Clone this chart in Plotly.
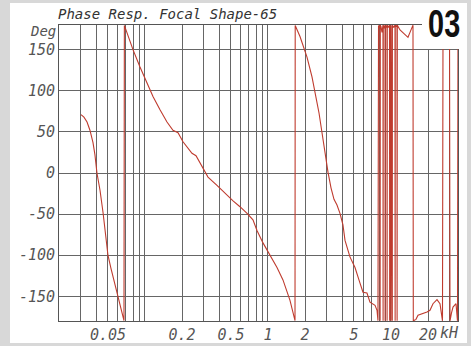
import math
import plotly.graph_objects as go

# Frequency (kHz) and phase (deg) (wrapped at +/-180)
freq_khz = [
    0.0302, 0.0319, 0.0338, 0.0357, 0.0378, 0.0392, 0.0407, 0.0431, 0.0456, 0.0482,
    0.0500, 0.0529, 0.0560, 0.0604, 0.0638, 0.0675,
    0.0680, 0.0728, 0.0799, 0.0911, 0.1039, 0.1162, 0.1325, 0.151, 0.169, 0.1856,
    0.2038, 0.2238, 0.2411, 0.2600, 0.2802, 0.3254, 0.385, 0.464, 0.520, 0.592,
    0.676, 0.755, 0.814, 0.911, 1.039, 1.184, 1.324, 1.51, 1.659,
    1.665, 1.821, 2.076, 2.28, 2.457, 2.60, 2.75, 2.908, 3.076, 3.254, 3.442, 3.64,
    3.85, 4.07, 4.23, 4.64, 5.10, 5.60, 5.92, 6.38, 6.75, 7.42, 7.70, 7.84,
    7.92, 8.07, 8.14, 8.16, 8.19, 8.30, 8.45, 8.58, 8.61, 8.63, 8.66,
    8.80, 8.94, 8.96, 8.99, 9.12, 9.28, 9.30, 9.33, 9.50,
    9.73, 9.76, 9.82, 9.88, 9.94, 10.00, 10.06, 10.12, 10.18, 10.25, 10.27,
    10.50, 10.78, 10.81, 10.84, 11.00, 11.19, 11.22, 11.26,
    11.84, 12.52, 13.25, 13.75, 14.28, 14.83, 15.10, 15.19,
    15.97, 16.59, 18.21, 19.63, 20.76, 21.96, 23.67, 25.03,
    26.23, 26.49, 27.49, 28.55, 29.92, 30.20, 31.06, 31.94, 33.78, 34.74, 35.07,
]
phase_deg = [
    71, 68, 62, 52, 37, 22, 0, -21, -48, -79,
    -100, -116, -130, -151, -165, -179.5,
    179.5, 166, 150, 129, 110, 93, 77, 62, 52, 49,
    38, 30, 24, 21, 12, -5, -15, -27, -34, -41,
    -49, -57, -70, -85, -100, -115, -130, -155, -179.5,
    179.5, 166, 141, 117, 93, 73, 49, 24, 1, -18, -32, -39,
    -49, -63, -82, -102, -115, -134, -145, -146, -157, -161, -167, -179.5,
    179.5, 177, 179.8, -179.8, 179.8, 178, 171, 177, 179.8, -179.8, 179.8,
    176, 179.8, -179.8, 179.8, 177, 179.8, -179.8, 179.8, 177,
    179.8, -179.8, 179.8, -179.8, 179.8, -179.8, 179.8, -179.8, 179.8, -179.8, 179.8,
    177, 179.8, -179.8, 179.8, 178, 179.8, -179.8, 179.8,
    174, 171, 168, 165, 171, 178, 179.8, -179.8,
    -178, -173, -171, -169, -167, -159, -154, -159,
    -179.8, 179.8, 172, 170, 179.8, -179.8, -170, -163, -159, -179.8, 179.8,
]

# Axis ticks / labels
x_grid_vals = [0.03, 0.04, 0.05, 0.06, 0.07, 0.08, 0.09,
               0.1, 0.2, 0.3, 0.4, 0.5, 0.6, 0.7, 0.8, 0.9,
               1, 2, 3, 4, 5, 6, 7, 8, 9, 10, 20, 30]
x_label_vals = [0.05, 0.2, 0.5, 1, 2, 5, 10, 20]
x_label_text = ["0.05", "0.2", "0.5", "1", "2", "5", "10", "20"]
y_tick_vals = [-150, -100, -50, 0, 50, 100, 150]
y_tick_text = ["-150", "-100", "-50", "0", "50", "100", "150"]

x_text = [x_label_text[x_label_vals.index(v)] if v in x_label_vals else "" for v in x_grid_vals]

MONO = "DejaVu Sans Mono"
tick_font = dict(family=MONO, size=15, color="#555555", style="italic")

fig = go.Figure()
fig.add_trace(go.Scatter(
    x=freq_khz, y=phase_deg, mode="lines",
    line=dict(color="#bf3b2e", width=1.1), hoverinfo="skip",
))

W, H = 471, 346
L, R, T, B = 59, 13, 25, 25
pw, ph = W - L - R, H - T - B

def px(xp):
    return (xp - L) / pw

def py(yp):
    return 1 - (yp - T) / ph

fig.update_layout(
    width=W, height=H,
    margin=dict(l=L, r=R, t=T, b=B, autoexpand=False),
    paper_bgcolor="#d8d8d8",
    plot_bgcolor="white",
    showlegend=False,
    title=dict(text="Phase Resp. Focal Shape-65", x=58 / W, xref="container", xanchor="left",
               y=1 - 14 / H, yref="container", yanchor="middle",
               font=dict(family=MONO, size=14, color="#333333", style="italic")),
    xaxis=dict(type="log", range=[math.log10(0.02), math.log10(35.07)],
               tickmode="array", tickvals=x_grid_vals, ticktext=x_text,
               showgrid=True, gridcolor="#666666", gridwidth=1,
               showline=True, linecolor="#555555", linewidth=1, mirror=True,
               ticks="", tickfont=tick_font, zeroline=False, automargin=False),
    yaxis=dict(range=[-180, 180], tickmode="array", tickvals=y_tick_vals, ticktext=y_tick_text,
               showgrid=True, gridcolor="#666666", gridwidth=1,
               showline=True, linecolor="#555555", linewidth=1, mirror=True,
               ticks="", tickfont=tick_font, zeroline=False, automargin=False),
    shapes=[
        dict(type="rect", xref="paper", yref="paper", x0=px(10), x1=px(467), y0=py(343), y1=py(3),
             fillcolor="white", line=dict(width=0), layer="below"),
        dict(type="rect", xref="paper", yref="paper", x0=px(422), x1=px(467), y0=py(49), y1=py(3),
             fillcolor="white", line=dict(width=0), layer="above"),
    ],
    annotations=[
        dict(text="Deg", xref="paper", yref="paper", x=px(58), y=py(31), xanchor="right",
             yanchor="middle", showarrow=False, font=dict(family=MONO, size=14, color="#555555", style="italic")),
        dict(text="kH", xref="paper", yref="paper", x=px(438), y=py(333), xanchor="left",
             yanchor="middle", showarrow=False, font=dict(family=MONO, size=15, color="#555555", style="italic")),
        dict(text="<b>03</b>", xref="paper", yref="paper", x=px(444), y=py(24), xanchor="center",
             yanchor="middle", showarrow=False,
             font=dict(family="Liberation Sans, Arial, sans-serif", size=38, color="#111111")),
    ],
)

squeeze_js = """
var gd = document.getElementById('{plot_id}');
gd.querySelectorAll('.annotation-text').forEach(function(t){
  if (t.textContent.trim() === '03') {
    var b = t.getBBox();
    var cx = b.x + b.width / 2;
    t.setAttribute('transform', 'translate(' + cx + ',0) scale(0.76,1) translate(' + (-cx) + ',0)');
  }
});
"""

fig.write_html("out.html", post_script=squeeze_js)
